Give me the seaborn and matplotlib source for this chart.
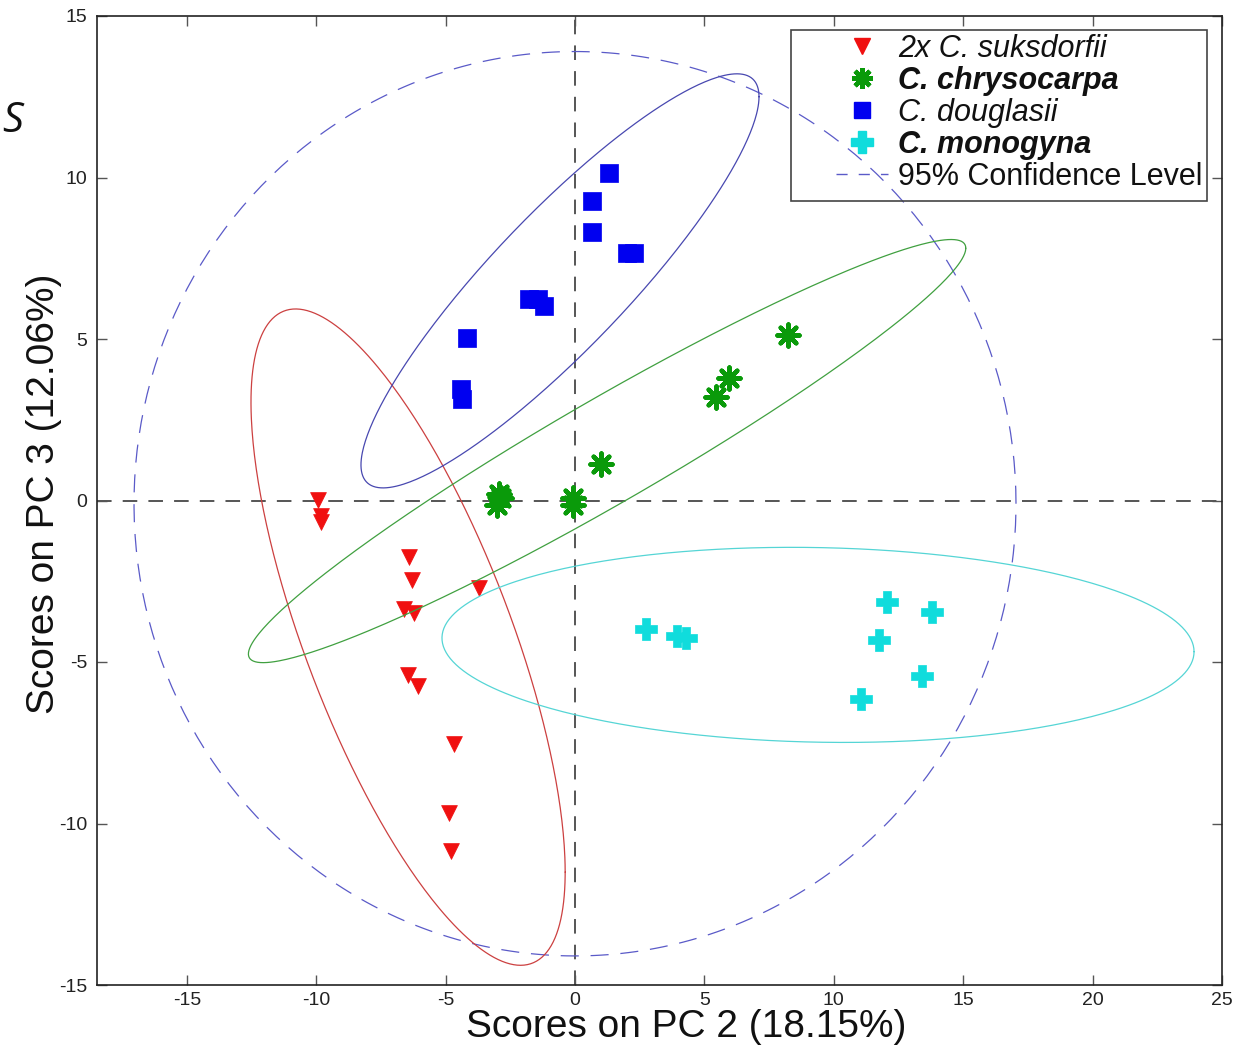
import numpy as np
import pandas as pd
import matplotlib
matplotlib.use("Agg")
import matplotlib.pyplot as plt
import seaborn as sns
from matplotlib.lines import Line2D
from matplotlib.patches import Rectangle

# ---------------- data ----------------
sus_x = [-9.93, -9.82, -9.82, -6.42, -6.30, -6.61, -6.22, -3.71, -6.45, -6.07, -4.68, -4.87, -4.79]
sus_y = [0.02, -0.48, -0.67, -1.75, -2.46, -3.36, -3.48, -2.71, -5.40, -5.74, -7.54, -9.67, -10.85]

chr_x = [8.23, 5.95, 5.45, 1.00, -2.95, -2.85, -3.00, -0.08, -0.08]
chr_y = [5.12, 3.79, 3.20, 1.13, 0.20, 0.08, -0.15, 0.08, -0.14]

dou_x = [1.31, 0.66, 0.66, 2.01, 2.28, -1.78, -1.43, -1.20, -4.17, -4.41, -4.37]
dou_y = [10.14, 9.27, 8.31, 7.66, 7.66, 6.24, 6.24, 6.02, 5.03, 3.45, 3.14]

mon_x = [2.74, 3.94, 4.29, 12.06, 13.80, 11.75, 13.41, 11.05]
mon_y = [-3.98, -4.20, -4.26, -3.14, -3.45, -4.32, -5.43, -6.15]

# ellipses: center x, center y, half extent x, half extent y, correlation
ell_names = ["sus", "chr", "dou", "mon", "conf"]
ell_cx = [-6.45, 1.24, -0.58, 9.39, 0.0]
ell_cy = [-4.23, 1.53, 6.80, -4.47, -0.10]
ell_hx = [6.07, 13.86, 7.69, 14.53, 17.04]
ell_hy = [10.16, 6.55, 6.41, 3.02, 14.0]
ell_rho = [-0.716, 0.959, 0.889, -0.07, 0.0]

labels = ["2x C. suksdorfii", "C. chrysocarpa", "C. douglasii", "C. monogyna",
          "95% Confidence Level"]
x_ticks = [-15, -10, -5, 0, 5, 10, 15, 20, 25]
y_ticks = [-15, -10, -5, 0, 5, 10, 15]

# ---------------- styling ----------------
sns.set_theme(style="ticks")
plt.rcParams["font.family"] = ["Liberation Sans", "DejaVu Sans"]
plt.rcParams["lines.scale_dashes"] = False

W, H = 1249, 1064
fig = plt.figure(figsize=(W / 100, H / 100), dpi=100)
ax_l, ax_r, ax_t, ax_b = 97, 1222, 16, 985
ax = fig.add_axes([ax_l / W, 1 - ax_b / H, (ax_r - ax_l) / W, (ax_b - ax_t) / H])

# zero lines
ax.axhline(0, color="#555555", lw=1.4, dashes=(10.5, 8), zorder=1)
ax.axvline(0, color="#555555", lw=1.4, dashes=(10.5, 8), zorder=1)

# scatter groups
c_red, c_green, c_blue, c_cyan = "#f01010", "#0a9a0a", "#0000f0", "#10dcdc"
sns.scatterplot(x=sus_x, y=sus_y, marker="v", s=130, color=c_red,
                edgecolor=c_red, linewidth=0.5, ax=ax, zorder=4)
sns.scatterplot(x=chr_x, y=chr_y, marker=(8, 2, 0), s=250, color=c_green,
                linewidth=3.2, ax=ax, zorder=4)
sns.scatterplot(x=dou_x, y=dou_y, marker="s", s=150, color=c_blue,
                edgecolor=c_blue, linewidth=0.5, ax=ax, zorder=4)
sns.scatterplot(x=mon_x, y=mon_y, marker="P", s=260, color=c_cyan,
                edgecolor=c_cyan, linewidth=0.5, ax=ax, zorder=4)

# ellipses
ell_colors = ["#cc4040", "#40a040", "#4848b0", "#55d5d5", "#5a5ac8"]
t = np.linspace(0, 2 * np.pi, 400)
for i in range(len(ell_names)):
    hx, hy, r = ell_hx[i], ell_hy[i], ell_rho[i]
    S = np.array([[hx * hx, r * hx * hy], [r * hx * hy, hy * hy]])
    L = np.linalg.cholesky(S)
    pts = L @ np.vstack([np.cos(t), np.sin(t)])
    ex = ell_cx[i] + pts[0]
    ey = ell_cy[i] + pts[1]
    if ell_names[i] == "conf":
        ax.plot(ex, ey, color=ell_colors[i], lw=0.9, dashes=(13, 8.5), zorder=3)
    else:
        ax.plot(ex, ey, color=ell_colors[i], lw=0.9, zorder=5)

# axes
ax.set_xlim(-18.47, 25)
ax.set_ylim(-15, 15)
ax.set_xticks(x_ticks)
ax.set_yticks(y_ticks)
ax.set_xticklabels([str(v) for v in x_ticks])
ax.set_yticklabels([str(v) for v in y_ticks])
ax.tick_params(axis="both", direction="in", length=7, width=1.0, color="#555555",
               labelsize=14, labelcolor="#222222", top=True, right=True)
ax.tick_params(axis="x", pad=5)
ax.tick_params(axis="y", pad=7)
for sp in ax.spines.values():
    sp.set_visible(True)
    sp.set_color("#222222")
    sp.set_linewidth(1.2)

ax.set_xlabel("Scores on PC 2 (18.15%)", fontsize=28, color="#111111")
ax.set_ylabel("Scores on PC 3 (12.06%)", fontsize=28, color="#111111")
ax.xaxis.set_label_coords((686 - ax_l) / (ax_r - ax_l), -0.0245, transform=ax.transAxes)
ax.yaxis.set_label_coords(-0.047, (ax_b - 494) / (ax_b - ax_t), transform=ax.transAxes)
ax.xaxis.label.set_va("top")
ax.yaxis.label.set_va("center")

# legend
handles = [
    Line2D([], [], ls="none", marker="v", ms=12, color=c_red),
    Line2D([], [], ls="none", marker=(8, 2, 0), ms=15, mew=3.2, color=c_green),
    Line2D([], [], ls="none", marker="s", ms=12, color=c_blue),
    Line2D([], [], ls="none", marker="P", ms=16, color=c_cyan),
    Line2D([], [], color=ell_colors[4], lw=1.0, dashes=(8, 8)),
]
leg = ax.legend(handles, labels, loc="upper left",
                bbox_to_anchor=(836 / W, 1 - 34 / H), bbox_transform=fig.transFigure,
                frameon=False, fontsize=22, borderpad=0, borderaxespad=0,
                handlelength=1.7, handletextpad=0.33, labelspacing=0.065)
styles = [("italic", "normal"), ("italic", "bold"), ("italic", "normal"),
          ("italic", "bold"), ("normal", "normal")]
for txt, (st, wt) in zip(leg.get_texts(), styles):
    txt.set_fontstyle(st)
    txt.set_fontweight(wt)
    txt.set_color("#111111")
leg.set_zorder(20)
frame = Rectangle((791 / W, 1 - 201 / H), (1207 - 791) / W, (201 - 30) / H,
                  transform=fig.transFigure, facecolor="none", edgecolor="#444444",
                  lw=1.2, zorder=15, clip_on=False)
ax.add_patch(frame)

# stray glyph at left edge of the original image
fig.text(0.002, 1 - 121 / H, "S", fontsize=30, fontstyle="italic",
         family=["Open Sans", "DejaVu Sans"], va="center", ha="left", color="#111111")

fig.savefig("out.png", dpi=100, facecolor="white")
